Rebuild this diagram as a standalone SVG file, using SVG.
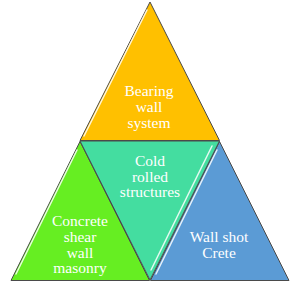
<svg xmlns="http://www.w3.org/2000/svg" width="300" height="287" viewBox="0 0 300 287">
<style>
.tri{stroke:#4a4a4a;stroke-width:1;stroke-linejoin:miter}
.hl{stroke:#ffffff;stroke-width:1.5;stroke-opacity:0.85;fill:none;stroke-linecap:round}
.lbl{font-family:"Liberation Serif","Times New Roman",serif;font-size:15.5px;fill:#ffffff;text-anchor:middle}
</style>
<rect width="300" height="287" fill="#ffffff"/>
<g id="connectors"></g>
<g id="node-top">
<polygon class="tri" points="150,2 219.5,140.5 80,140.5" fill="#FFC000"/>
<line class="hl" x1="147" y1="10" x2="84" y2="136"/>
<text class="lbl"><tspan x="149" y="95.5">Bearing</tspan><tspan x="149" y="111.5">wall</tspan><tspan x="149" y="127.5">system</tspan></text>
</g>
<g id="node-left">
<polygon class="tri" points="80,141.5 149.5,280.5 11,280.5" fill="#66EE22"/>
<line class="hl" x1="77" y1="150" x2="16" y2="274"/>
<text class="lbl"><tspan x="80" y="225.5">Concrete</tspan><tspan x="80" y="241.5">shear</tspan><tspan x="80" y="257.5">wall</tspan><tspan x="80" y="273.3">masonry</tspan></text>
</g>
<g id="node-right">
<polygon class="tri" points="219.5,141.5 289,280.5 150.5,280.5" fill="#5B9BD5"/>
<line class="hl" x1="217" y1="150" x2="156" y2="274"/>
<text class="lbl"><tspan x="219" y="242.3">Wall shot</tspan><tspan x="219" y="258.3">Crete</tspan></text>
</g>
<g id="node-middle">
<polygon class="tri" points="80,141 219.5,141 150,280" fill="#44DDA0"/>
<line class="hl" x1="212" y1="146" x2="151" y2="270"/>
<text class="lbl"><tspan x="150" y="165.7">Cold</tspan><tspan x="150" y="181.7">rolled</tspan><tspan x="150" y="196.7">structures</tspan></text>
</g>
</svg>
